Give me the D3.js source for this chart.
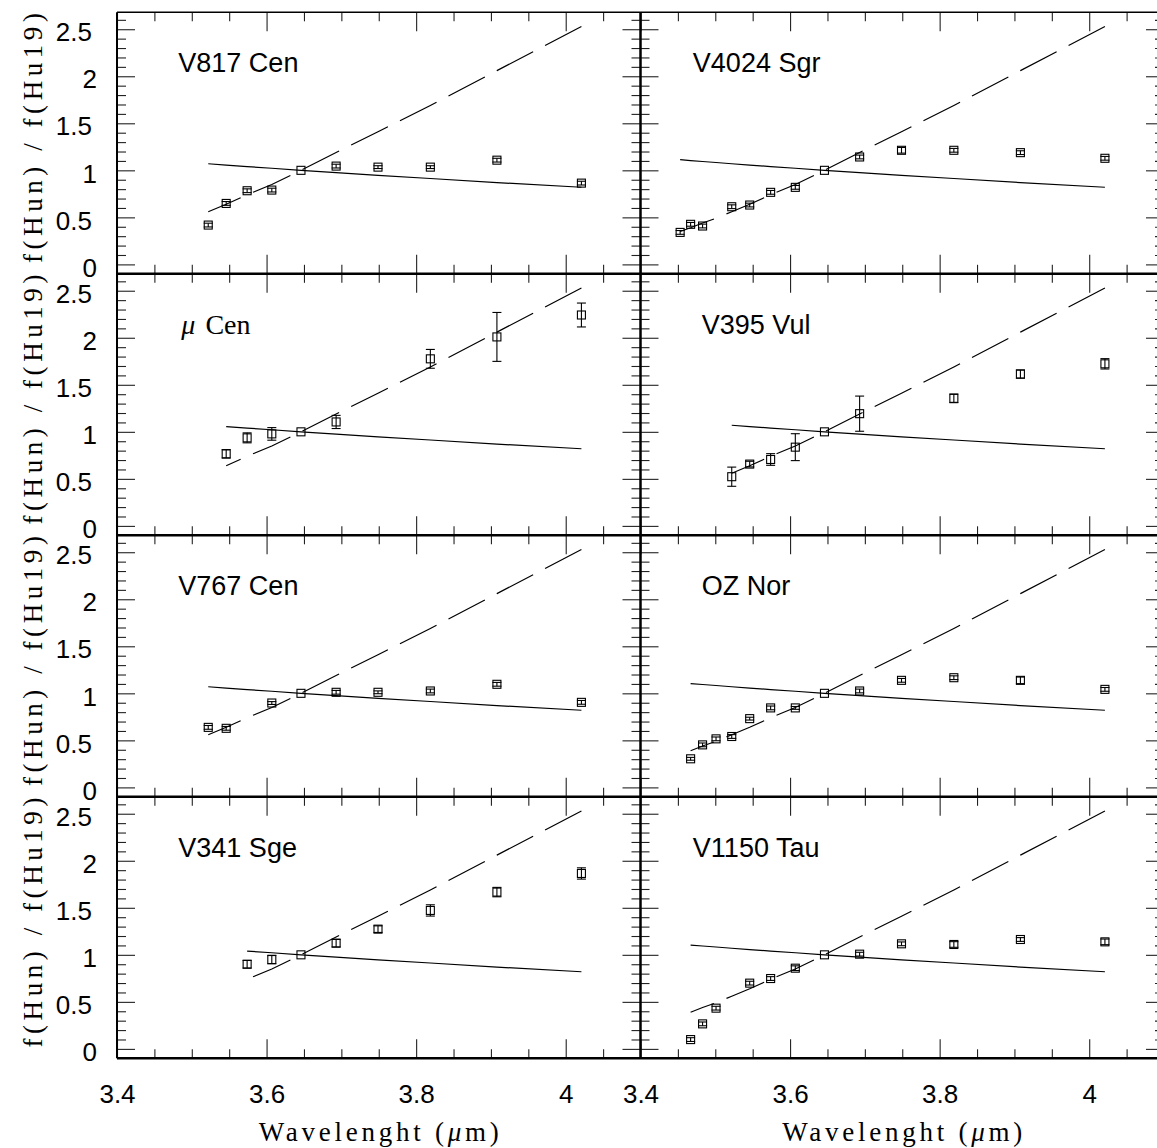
<!DOCTYPE html>
<html>
<head>
<meta charset="utf-8">
<script src="https://cdn.jsdelivr.net/npm/d3@7"></script>
<style>
  body { margin: 0; background: #fff; }
  svg { display: block; }
</style>
</head>
<body>
<svg id="chart" width="1157" height="1148"></svg>
<script>
// Humphreys lines Hu14 ... Hu27 (micron)
var wavelengths = [4.021, 3.908, 3.819, 3.749, 3.693, 3.646, 3.607, 3.574, 3.546, 3.522, 3.501, 3.483, 3.467, 3.453];

// model ratios (dashed and solid curves)
var modelDashed = [2.53, 2.06, 1.69, 1.41, 1.19, 1.00, 0.85, 0.74, 0.64, 0.56, 0.49, 0.44, 0.39, 0.35];
var modelSolid = [0.82, 0.87, 0.913, 0.946, 0.975, 1.0, 1.022, 1.04, 1.056, 1.07, 1.083, 1.094, 1.104, 1.113];

// observed ratios f(Hun)/f(Hu19), same order as wavelengths (null = no point)
var v817Cen = [0.864, 1.108, 1.034, 1.034, 1.045, 1.0, 0.79, 0.783, 0.648, 0.418, null, null, null, null];
var v817CenErr = [0.02, 0.02, 0.015, 0.015, 0.02, 0, 0.02, 0.02, 0.02, 0.02, null, null, null, null];

var v4024Sgr = [1.128, 1.188, 1.213, 1.213, 1.142, 1.0, 0.819, 0.766, 0.631, 0.613, null, 0.408, 0.426, 0.340];
var v4024SgrErr = [0.02, 0.02, 0.02, 0.03, 0.02, 0, 0.02, 0.02, 0.02, 0.02, null, 0.02, 0.02, 0.02];

var muCen = [2.242, 2.009, 1.776, null, 1.105, 1.0, 0.978, 0.936, 0.766, null, null, null, null, null];
var muCenErr = [0.127, 0.26, 0.10, null, 0.07, 0, 0.067, 0.053, 0.045, null, null, null, null, null];

var v395Vul = [1.723, 1.614, 1.356, null, 1.193, 1.0, 0.837, 0.706, 0.657, 0.523, null, null, null, null];
var v395VulErr = [0.055, 0.044, 0.046, null, 0.187, 0, 0.143, 0.062, 0.03, 0.102, null, null, null, null];

var v767Cen = [0.904, 1.096, 1.025, 1.011, 1.011, 1.0, 0.897, null, 0.628, 0.638, null, null, null, null];
var v767CenErr = [0.02, 0.02, 0.02, 0.015, 0.02, 0, 0.015, null, 0.02, 0.02, null, null, null, null];

var ozNor = [1.042, 1.138, 1.166, 1.138, 1.025, 1.0, 0.845, 0.845, 0.731, 0.541, 0.516, 0.452, 0.304, null];
var ozNorErr = [0.02, 0.035, 0.02, 0.02, 0.02, 0, 0.015, 0.02, 0.015, 0.02, 0.02, 0.02, 0.015, null];

var v341Sge = [1.865, 1.667, 1.472, 1.273, 1.124, 1.0, 0.95, 0.90, null, null, null, null, null, null];
var v341SgeErr = [0.06, 0.05, 0.06, 0.035, 0.04, 0, 0.045, 0.04, null, null, null, null, null, null];

var v1150Tau = [1.138, 1.163, 1.110, 1.117, 1.007, 1.0, 0.858, 0.748, 0.699, null, 0.433, 0.266, 0.099, null];
var v1150TauErr = [0.03, 0.02, 0.03, 0.02, 0.02, 0, 0.025, 0.02, 0.02, null, 0.02, 0.02, 0.02, null];

var xMajor = [3.4, 3.6, 3.8, 4.0];
var yMajor = [0, 0.5, 1, 1.5, 2, 2.5];

var stars = [
    { name: "V817 Cen", values: v817Cen, errors: v817CenErr, labelX: 3.482 },
    { name: "V4024 Sgr", values: v4024Sgr, errors: v4024SgrErr, labelX: 3.470 },
    { name: "Cen", values: muCen, errors: muCenErr, labelX: 3.486, greek: "\u03bc" },
    { name: "V395 Vul", values: v395Vul, errors: v395VulErr, labelX: 3.482 },
    { name: "V767 Cen", values: v767Cen, errors: v767CenErr, labelX: 3.482 },
    { name: "OZ Nor", values: ozNor, errors: ozNorErr, labelX: 3.482 },
    { name: "V341 Sge", values: v341Sge, errors: v341SgeErr, labelX: 3.482 },
    { name: "V1150 Tau", values: v1150Tau, errors: v1150TauErr, labelX: 3.470 }
];

// layout
var plotLeft = 117, plotMid = 640.5, plotRight = 1164;
var plotTop = 12.3, rowH = 261.5;
var nRows = 4;
var serif = "'Liberation Serif', 'DejaVu Serif', serif";
var sans = "'Liberation Sans', Arial, sans-serif";

var svg = d3.select("#chart");

var minorX = d3.range(69, 82).map(function (d) { return d / 20; })
    .filter(function (d) { return Math.abs(d * 5 - Math.round(d * 5)) > 1e-6; });
var minorY = d3.range(0, 27).map(function (d) { return d / 10; })
    .filter(function (d) { return Math.abs(d * 2 - Math.round(d * 2)) > 1e-6; });

function tickAxis(g, axisFn, scale, values, size, transform) {
    var a = g.append("g")
        .attr("transform", transform)
        .call(axisFn(scale).tickValues(values).tickSize(size).tickFormat(""));
    a.select(".domain").remove();
    a.selectAll("line").attr("stroke", "#222").attr("stroke-width", 1.1);
}

stars.forEach(function (star, k) {
    var col = k % 2, row = Math.floor(k / 2);
    var x0 = col ? plotMid : plotLeft, x1 = col ? plotRight : plotMid;
    var y0 = plotTop + row * rowH, y1 = y0 + rowH;

    var x = d3.scaleLinear().domain([3.4, 4.1]).range([x0, x1]);
    var y = d3.scaleLinear().domain([-0.1, 2.68]).range([y1, y0]);

    var g = svg.append("g");

    // inward ticks on all four sides
    tickAxis(g, d3.axisTop, x, minorX, 9, "translate(0," + y1 + ")");
    tickAxis(g, d3.axisTop, x, xMajor, 19, "translate(0," + y1 + ")");
    tickAxis(g, d3.axisBottom, x, minorX, 9, "translate(0," + y0 + ")");
    tickAxis(g, d3.axisBottom, x, xMajor, 19, "translate(0," + y0 + ")");
    tickAxis(g, d3.axisRight, y, minorY, 9, "translate(" + x0 + ",0)");
    tickAxis(g, d3.axisRight, y, yMajor, 18, "translate(" + x0 + ",0)");
    tickAxis(g, d3.axisLeft, y, minorY, 9, "translate(" + x1 + ",0)");
    tickAxis(g, d3.axisLeft, y, yMajor, 18, "translate(" + x1 + ",0)");

    // tick labels
    if (row === nRows - 1) {
        var ax = g.append("g")
            .attr("transform", "translate(0," + y1 + ")")
            .call(d3.axisBottom(x).tickValues(xMajor).tickSize(0).tickPadding(26).tickFormat(d3.format("~g")));
        ax.select(".domain").remove();
        ax.attr("font-size", 26).attr("font-family", sans);
    }
    if (col === 0) {
        var ay = g.append("g")
            .attr("transform", "translate(" + x0 + ",0)")
            .call(d3.axisLeft(y).tickValues(yMajor).tickSize(0).tickPadding(22).tickFormat(d3.format("~g")));
        ay.select(".domain").remove();
        ay.attr("font-size", 26).attr("font-family", sans);
        ay.selectAll("text")
            .attr("dy", "0.45em")
            .attr("x", function (d) { return Number.isInteger(d) ? -20 : -25; });
    }

    // model curves from the first observed line to Hu14
    var last = 0;
    star.values.forEach(function (v, i) { if (v !== null) last = i; });
    var idx = d3.range(0, last + 1);

    g.append("path")
        .attr("d", d3.line()
            .x(function (i) { return x(wavelengths[i]); })
            .y(function (i) { return y(modelDashed[i]); })(idx))
        .attr("fill", "none")
        .attr("stroke", "#000")
        .attr("stroke-width", 1.2)
        .attr("stroke-dasharray", "41,13.5");

    g.append("path")
        .attr("d", d3.line()
            .x(function (i) { return x(wavelengths[i]); })
            .y(function (i) { return y(modelSolid[i]); })(idx))
        .attr("fill", "none")
        .attr("stroke", "#000")
        .attr("stroke-width", 1.2);

    // observed points with error bars
    var pts = idx.filter(function (i) { return star.values[i] !== null; })
        .map(function (i) { return { w: wavelengths[i], v: star.values[i], e: star.errors[i] }; });

    var pg = g.selectAll(".pt").data(pts).enter().append("g").attr("class", "pt");

    pg.filter(function (d) { return d.e > 0; }).each(function (d) {
        var s = d3.select(this);
        var cx = x(d.w), ya = y(d.v - d.e), yb = y(d.v + d.e);
        s.append("line").attr("x1", cx).attr("x2", cx).attr("y1", ya).attr("y2", yb);
        s.append("line").attr("x1", cx - 4.5).attr("x2", cx + 4.5).attr("y1", ya).attr("y2", ya);
        s.append("line").attr("x1", cx - 4.5).attr("x2", cx + 4.5).attr("y1", yb).attr("y2", yb);
        s.selectAll("line").attr("stroke", "#000").attr("stroke-width", 1.1);
    });

    pg.append("rect")
        .attr("x", function (d) { return x(d.w) - 4; })
        .attr("y", function (d) { return y(d.v) - 4; })
        .attr("width", 8)
        .attr("height", 8)
        .attr("fill", "none")
        .attr("stroke", "#000")
        .attr("stroke-width", 1.1);

    // star name
    var label = g.append("text")
        .attr("x", x(star.labelX))
        .attr("y", y0 + 60);
    if (star.greek) {
        label.attr("font-family", serif).attr("font-size", 28);
        label.append("tspan").attr("font-style", "italic").text(star.greek);
        label.append("tspan").attr("dx", 10).text(star.name);
    } else {
        label.attr("font-family", sans).attr("font-size", 27).text(star.name);
    }

    // y axis title for each row
    if (col === 0) {
        g.append("text")
            .attr("transform", "translate(42," + ((y0 + y1) / 2 - 5) + ") rotate(-90)")
            .attr("text-anchor", "middle")
            .attr("font-family", serif)
            .attr("font-size", 27)
            .attr("textLength", 250)
            .attr("lengthAdjust", "spacing")
            .text("f(Hun) / f(Hu19)");
    }

    // x axis title under each column
    if (row === nRows - 1) {
        var xt = g.append("text")
            .attr("x", (x0 + x1) / 2)
            .attr("y", 1141)
            .attr("text-anchor", "middle")
            .attr("font-family", serif)
            .attr("font-size", 27)
            .attr("textLength", 240)
            .attr("lengthAdjust", "spacing");
        xt.append("tspan").text("Wavelenght (");
        xt.append("tspan").attr("font-style", "italic").text("\u03bc");
        xt.append("tspan").text("m)");
    }
});

// frame: outer border and shared boundaries
var frame = svg.append("g").attr("fill", "none").attr("stroke", "#000");
var plotBottom = plotTop + nRows * rowH;
frame.append("line").attr("x1", plotLeft).attr("x2", plotRight).attr("y1", plotTop).attr("y2", plotTop).attr("stroke-width", 1.6);
frame.append("line").attr("x1", plotLeft).attr("x2", plotLeft).attr("y1", plotTop).attr("y2", plotBottom).attr("stroke-width", 2);
frame.append("line").attr("x1", plotRight).attr("x2", plotRight).attr("y1", plotTop).attr("y2", plotBottom).attr("stroke-width", 2);
frame.append("line").attr("x1", plotMid).attr("x2", plotMid).attr("y1", plotTop).attr("y2", plotBottom).attr("stroke-width", 2.5);
d3.range(1, nRows + 1).forEach(function (r) {
    var yy = plotTop + r * rowH;
    frame.append("line").attr("x1", plotLeft).attr("x2", plotRight).attr("y1", yy).attr("y2", yy).attr("stroke-width", 2.5);
});
</script>
</body>
</html>
